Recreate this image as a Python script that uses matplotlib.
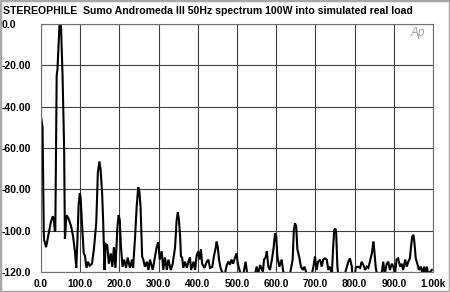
import matplotlib
matplotlib.use('Agg')
import matplotlib.pyplot as plt
from matplotlib.patches import Rectangle

# spectrum (Hz, dB)
freq = [0, 3, 4, 7, 8, 13, 18, 25, 30, 33, 35, 36.5, 40, 42, 47, 49, 51, 55, 59, 61,
        65, 70, 77, 82, 87, 90, 93, 96, 99, 101, 105, 109, 112, 116, 120, 124, 130, 135,
        141, 145, 149, 152, 156, 159, 162, 165, 169, 173, 178, 182, 186, 190, 195, 198,
        201, 204, 208, 212, 217, 221, 227, 232, 235, 240, 244, 248, 251, 254, 258, 261,
        265, 270, 274, 278, 285, 291, 295, 299, 303, 308, 312, 316, 321, 325, 331, 336,
        342, 346, 349, 352, 355, 357, 360, 363, 367, 372, 376, 380, 383, 389, 393, 397,
        401, 404, 408, 411, 417, 423, 427, 431, 437, 441, 446, 448, 451, 454, 458, 462,
        469, 474, 478, 482, 486, 490, 495, 499, 502, 505, 509, 516, 522, 526, 546, 550,
        554, 559, 566, 569, 573, 576, 580, 584, 589, 593, 597, 600, 603, 608, 614, 618,
        627, 635, 642, 645, 648, 651, 654, 659, 663, 668, 672, 678, 691, 695, 699, 703,
        707, 712, 716, 720, 724, 729, 733, 737, 742, 745, 748, 751, 753, 756, 758, 775,
        778, 784, 788, 793, 794, 801, 803, 808, 814, 818, 822, 827, 831, 835, 839, 844,
        848, 850, 854, 857, 869, 873, 877, 882, 886, 890, 895, 899, 903, 907, 911, 916,
        920, 924, 929, 933, 937, 941, 944, 947, 950, 952, 956, 960, 964, 969, 973, 977,
        980, 984, 988, 997]
level = [-45, -49, -50, -100, -104.5, -108, -103, -96, -93, -95, -100, -100, -25, -22, -1, 0, -1, -25, -60, -104,
         -92.5, -94, -98, -103, -111, -118, -104, -87.5, -82, -84, -98, -111, -112, -118, -115, -117, -116, -109,
         -96, -72, -66.5, -70.5, -82, -98, -119, -106.5, -107, -116, -111, -117.5, -108, -118, -98, -92.5,
         -95, -108, -117.5, -114, -118, -113, -118, -114, -118, -103, -88.5, -79, -81, -88.5, -112.5, -114,
         -117.5, -115, -119, -114, -119, -112.5, -108, -105.5, -114, -110, -119, -113, -119, -114, -119, -116,
         -108, -95, -91, -95, -103, -112.5, -113, -118, -115, -118, -115, -113, -119, -115, -119, -112,
         -110, -114, -109, -116, -118, -115, -114, -118, -117.5, -112.5, -108, -105.3, -108, -114, -118, -120,
         -121, -116.5, -115, -116.5, -114, -116, -113, -111, -116, -118, -121, -121, -115, -121, -121, -117.4,
         -121, -116.6, -120, -114, -113, -110, -117.4, -119, -114, -109, -101.3, -102.5, -112.5, -117.4, -114, -120,
         -121, -121, -114, -99.7, -96.4, -98, -109, -113, -117.4, -119, -117.4, -121, -121, -117.4, -112.5, -119,
         -115, -114, -117.4, -114, -113.4, -114, -119, -117.4, -121, -109, -99.7, -99, -101, -117, -121, -121,
         -119, -115, -113.4, -117.4, -121, -121, -118, -117.4, -118, -115, -116.5, -119, -117.4, -118, -115, -111,
         -105.3, -109, -118, -121, -121, -115, -121, -116, -115, -119, -116, -117.4, -121, -114, -113.4, -117.4,
         -116, -119, -114, -117.4, -115, -113.4, -107.7, -102.9, -102, -104.5, -113.4, -116, -119, -117.4, -121, -117.4,
         -121, -117.4, -121, -119]

xticks = [0, 100, 200, 300, 400, 500, 600, 700, 800, 900, 1000]
xtick_labels = ['0.0', '100.0', '200.0', '300.0', '400.0', '500.0', '600.0',
                '700.0', '800.0', '900.0', '1.00k']
yticks = [0, -20, -40, -60, -80, -100, -120]
ytick_labels = ['0.0', '-20.00', '-40.00', '-60.00', '-80.00', '-100.0', '-120.0']

title = 'STEREOPHILE  Sumo Andromeda III 50Hz spectrum 100W into simulated real load'

plt.rcParams['font.family'] = ['Liberation Sans', 'DejaVu Sans']

fig = plt.figure(figsize=(4.5, 2.92), dpi=100)
fig.patch.set_facecolor('white')
ax = fig.add_axes([41/450, 1 - 272/292, 392/450, 248/292])

ax.plot(freq, level, color='black', lw=1.5, solid_joinstyle='miter')
ax.set_xlim(0, 1000)
ax.set_ylim(-120, 0)

ax.set_xticks(xticks)
ax.set_yticks(yticks)
ax.set_xticklabels(xtick_labels, fontsize=7.3, fontweight='bold')
ax.set_yticklabels(ytick_labels, fontsize=7.5, fontweight='bold', ha='left')
ax.tick_params(axis='y', length=0, pad=28)
ax.tick_params(axis='x', length=0, pad=5)
ax.grid(True, color='#404040', lw=0.8)
for s in ax.spines.values():
    s.set_color('#707070')
    s.set_linewidth(0.8)

fig.text(3/450, 1 - 10.5/292, title, fontsize=7.6, fontweight='bold', va='center', ha='left')
ax.text(0.98, 0.963, 'Ap', transform=ax.transAxes, fontsize=8.5, style='italic',
        color='#a0a0a0', ha='right', va='center')

# light outer border
fig.patches.append(Rectangle((0, 0), 1, 1, transform=fig.transFigure, fill=False,
                             edgecolor='#a8a8a8', lw=2.5))

fig.savefig('out.png', dpi=100)
